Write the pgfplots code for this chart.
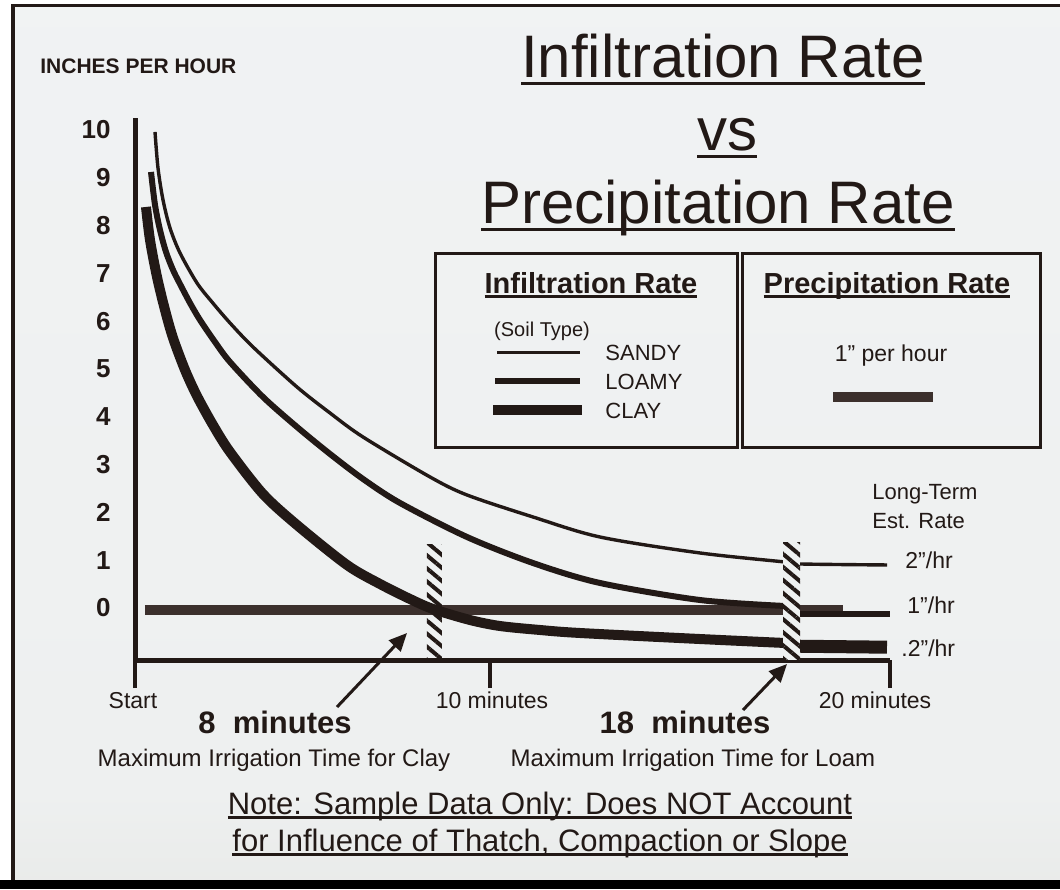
\documentclass[border=0pt]{standalone}
\usepackage{fontspec}
\setmainfont{Liberation Sans}
\usepackage{pgfplots}
\pgfplotsset{compat=1.18}
\usetikzlibrary{patterns.meta,arrows.meta}
\definecolor{ink}{RGB}{34,25,22}
\definecolor{precip}{RGB}{60,48,45}
\definecolor{bgtop}{RGB}{242,244,245}
\definecolor{bgmid}{RGB}{238,240,240}
\definecolor{bglow}{RGB}{222,223,218}
\definecolor{bgbot}{RGB}{192,192,180}
\pgfdeclareverticalshading{bgshade}{100bp}{color(0bp)=(bgbot); color(12bp)=(bglow); color(30bp)=(bgmid); color(100bp)=(bgtop)}
\newcommand\fs[1]{\fontsize{#1}{#1}\selectfont}
\newcommand\ul[3]{\setbox0\hbox{#3}\rlap{\rule[#1]{\wd0}{#2}}\box0}
\begin{document}
\begin{tikzpicture}
\begin{scope}[x=0.5pt,y=-0.5pt]
\path[use as bounding box] (0,0) rectangle (1060,889);
\fill[white] (0,0) rectangle (1060,889);
\shade[shading=bgshade] (13,5) rectangle (1060,880);
\fill[black] (0,880) rectangle (1060,889);
\fill[ink] (11,4) rectangle (15,880);
\fill[ink] (11,4) rectangle (1060,7);
\end{scope}
\begin{axis}[
  at={(67.5pt,-330pt)}, anchor=south west,
  scale only axis, width=377.5pt, height=271pt,
  xmin=0, xmax=20, ymin=-1.088, ymax=10.25,
  enlargelimits=false, clip=false,
  every non boxed x axis/.style={}, every non boxed y axis/.style={},
  axis x line=bottom, axis y line=left,
  axis line style={-, line width=2.5pt, ink},
  xtick={0,9.4,20}, xticklabels={},
  xtick align=outside, ytick align=inside,
  major tick length=14pt,
  xtick style={ink, line width=2pt},
  ytick={0,1,2,3,4,5,6,7,8,9,10},
  ytick style={draw=none},
  yticklabel style={font=\bfseries\fs{13}, text=ink, inner sep=0pt, xshift=-12pt},
  /pgf/number format/assume math mode=true,
]
% Precipitation rate (1 in/hr)
\addplot[precip, line width=5pt] coordinates {(0.26,-0.05) (18.75,-0.05)};
% Sandy
\addplot[ink, line width=1.7pt, smooth] coordinates {
(0.530,9.958) (0.609,9.205) (0.742,8.536) (0.927,7.950) (1.192,7.427) (1.642,6.799)
(2.040,6.400) (2.517,5.962) (3.126,5.460) (4.291,4.623) (5.166,4.079) (6.040,3.577)
(7.815,2.741) (8.795,2.364) (10.543,1.904) (12.318,1.485) (14.967,1.151) (17.219,0.962)
(17.616,0.921) (19.921,0.900)};
% Loamy
\addplot[ink, line width=3pt, smooth] coordinates {
(0.424,9.121) (0.530,8.431) (0.662,7.908) (0.821,7.448) (1.007,7.071) (1.192,6.778)
(1.457,6.381) (1.722,6.025) (2.119,5.565) (2.517,5.146) (3.391,4.414) (4.291,3.787)
(5.166,3.222) (6.040,2.699) (7.020,2.197) (8.795,1.485) (10.543,0.941) (12.318,0.523)
(14.967,0.167) (17.219,0.042)};
\addplot[ink, line width=3pt] coordinates {(17.62,-0.12) (20,-0.12)};
% Clay
\addplot[ink, line width=5pt, smooth] coordinates {
(0.291,8.389) (0.397,7.699) (0.583,6.925) (0.795,6.234) (1.007,5.649) (1.325,4.979)
(1.642,4.435) (2.066,3.828) (2.517,3.264) (3.391,2.385) (4.291,1.736) (5.616,0.900)
(6.490,0.502) (7.285,0.188) (7.894,-0.021) (8.874,-0.251) (9.669,-0.377) (10.728,-0.460)
(11.788,-0.523) (14.967,-0.649) (17.219,-0.732)};
\addplot[ink, line width=6.5pt] coordinates {(17.62,-0.80) (19.92,-0.82)};
% hatched markers at 8 and 18 minutes
\addplot[draw=none, pattern={Lines[angle=-40,distance=5pt,line width=2pt]}, pattern color=ink]
  coordinates {(7.73,-1.088) (8.13,-1.088) (8.13,1.33) (7.73,1.33)} --cycle;
\addplot[draw=none, fill=bgmid]
  coordinates {(17.17,-1.088) (17.62,-1.088) (17.62,1.36) (17.17,1.36)} --cycle;
\addplot[draw=none, pattern={Lines[angle=-40,distance=5pt,line width=2pt]}, pattern color=ink]
  coordinates {(17.17,-1.088) (17.62,-1.088) (17.62,1.36) (17.17,1.36)} --cycle;
\end{axis}
\begin{scope}[x=0.5pt,y=-0.5pt, every node/.style={text=ink}]
% titles
\node[anchor=base, font=\fs{30}] at (723,77) {\ul{-4pt}{1.6pt}{Infiltration Rate}};
\node[anchor=base, font=\fs{30}] at (727,150) {\ul{-4pt}{1.6pt}{vs}};
\node[anchor=base, font=\fs{30}] at (718,223) {\ul{-4pt}{1.6pt}{Precipitation Rate}};
\node[anchor=base west, inner sep=0pt, font=\bfseries\fs{10.5}] at (40,73) {INCHES PER HOUR};
% legend boxes
\draw[ink, line width=1.5pt] (435,253) rectangle (737,447);
\draw[ink, line width=1.5pt] (742,253) rectangle (1040,447);
\node[anchor=base, font=\bfseries\fs{14.5}] at (591,293) {\ul{-2.5pt}{1.3pt}{Infiltration Rate}};
\node[anchor=base, font=\bfseries\fs{14.5}] at (887,293) {\ul{-2.5pt}{1.3pt}{Precipitation Rate}};
\node[anchor=base, font=\fs{10}] at (542,336) {(Soil Type)};
\draw[ink, line width=1.5pt] (497,352) -- (580,352);
\draw[ink, line width=3pt] (495,381) -- (580,381);
\draw[ink, line width=5pt] (493,410) -- (582,410);
\node[anchor=base west, inner sep=0pt, font=\fs{11}] at (605,360) {SANDY};
\node[anchor=base west, inner sep=0pt, font=\fs{11}] at (605,389) {LOAMY};
\node[anchor=base west, inner sep=0pt, font=\fs{11}] at (605,418) {CLAY};
\node[anchor=base, font=\fs{11.5}] at (891,361) {1" per hour};
\draw[precip, line width=5pt] (833,397) -- (933,397);
% long-term rates
\node[anchor=base west, inner sep=0pt, font=\fs{11}] at (872,499) {Long-Term};
\node[anchor=base west, inner sep=0pt, font=\fs{11}] at (872,528) {Est. Rate};
\node[anchor=base west, inner sep=0pt, font=\fs{11.5}] at (905,568) {2"/hr};
\node[anchor=base west, inner sep=0pt, font=\fs{11.5}] at (907,613) {1"/hr};
\node[anchor=base west, inner sep=0pt, font=\fs{11.5}] at (901,656) {.2"/hr};
% x labels
\node[anchor=base, font=\fs{11.5}] at (133,708) {Start};
\node[anchor=base, font=\fs{11.5}] at (492,708) {10 minutes};
\node[anchor=base, font=\fs{11.5}] at (875,708) {20 minutes};
% arrows
\draw[ink, line width=1.5pt, -{Triangle[length=9pt,width=8pt]}] (337,707) -- (407,633);
\draw[ink, line width=1.5pt, -{Triangle[length=9pt,width=8pt]}] (743,710) -- (787,664);
% bottom text
\node[anchor=base, font=\bfseries\fs{15.5}] at (275,733) {8\ \ minutes};
\node[anchor=base, font=\bfseries\fs{15.5}] at (685,733) {18\ \ minutes};
\node[anchor=base, font=\fs{12}] at (274,766) {Maximum Irrigation Time for Clay};
\node[anchor=base, font=\fs{12}] at (693,766) {Maximum Irrigation Time for Loam};
\node[anchor=base, font=\fs{15.5}] at (540,814) {\ul{-2.5pt}{1.3pt}{Note: Sample Data Only: Does NOT Account}};
\node[anchor=base, font=\fs{15.5}] at (540,851) {\ul{-2.5pt}{1.3pt}{for Influence of Thatch, Compaction or Slope}};
\end{scope}
\end{tikzpicture}
\end{document}
